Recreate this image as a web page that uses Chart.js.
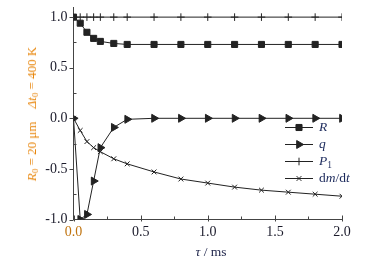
<!DOCTYPE html>
<html>
<head>
<meta charset="utf-8">
<script src="https://cdn.jsdelivr.net/npm/chart.js@4/dist/chart.umd.min.js"></script>
<style>
  html, body { margin: 0; padding: 0; background: #fff; }
  #wrap { position: relative; width: 384px; height: 265px; font-family: "Liberation Serif", "Times New Roman", serif; }
  #c { position: absolute; left: 0; top: 0; }
  .ytitle { position: absolute; left: 32px; top: 114px; transform: translate(-50%, -50%) rotate(-90deg);
            white-space: nowrap; color: #e8860c; font-size: 13px; }
  .xtitle { position: absolute; left: 211px; top: 252px; transform: translate(-50%, -50%);
            white-space: nowrap; color: #1c2248; font-size: 13.5px; }
  .leg { position: absolute; left: 319px; color: #1c2a5c; font-size: 13.5px; line-height: 1; transform: translateY(-50%); white-space: nowrap; }
  sub { font-size: 70%; vertical-align: -0.25em; line-height: 0; }
</style>
</head>
<body>
<div id="wrap">
  <canvas id="c" width="384" height="265"></canvas>
  <div class="ytitle"><i>R</i><sub>0</sub> = 20 μm&nbsp;&nbsp;&nbsp;&nbsp;<i>Δt</i><sub>0</sub> = 400 K</div>
  <div class="xtitle"><i>τ</i> / ms</div>
  <div class="leg" style="top:127px"><i>R</i></div>
  <div class="leg" style="top:144px"><i>q</i></div>
  <div class="leg" style="top:161px"><i>P</i><sub>1</sub></div>
  <div class="leg" style="top:178px">d<i>m</i>/d<i>t</i></div>
</div>
<script>
// Time axis, ms
const tau = [0, 0.05, 0.1, 0.15, 0.2, 0.3, 0.4, 0.6, 0.8, 1.0, 1.2, 1.4, 1.6, 1.8, 2.0];

// Normalised series
const R    = [1.0, 0.94, 0.85, 0.79, 0.76, 0.74, 0.73, 0.73, 0.73, 0.73, 0.73, 0.73, 0.73, 0.73, 0.73];
const q    = [0, -1.0, -0.95, -0.62, -0.29, -0.09, -0.01, 0, 0, 0, 0, 0, 0, 0, 0];
const P1   = [1, 1, 1, 1, 1, 1, 1, 1, 1, 1, 1, 1, 1, 1, 1];
const dmdt = [0, -0.12, -0.23, -0.29, -0.33, -0.40, -0.45, -0.53, -0.60, -0.64, -0.68, -0.71, -0.73, -0.75, -0.77];

// Tick values (labelled majors, unlabelled minors)
const xTicks = [0, 0.5, 1.0, 1.5, 2.0];
const xMinor = [0.25, 0.75, 1.25, 1.75];
const yTicks = [-1.0, -0.5, 0, 0.5, 1.0];
const yMinor = [-0.75, -0.25, 0.25, 0.75];

const INK = "#222";
const AXIS = "#444";
const SERIF = "'Liberation Serif', 'Times New Roman', serif";

const series = [
  { label: "R", data: R, pointStyle: "rect", radius: 4.3, rotation: 0 },
  { label: "q", data: q, pointStyle: "triangle", radius: 4.6, rotation: 90 },
  { label: "P1", data: P1, pointStyle: "cross", radius: 3.8, rotation: 0 },
  { label: "dm/dt", data: dmdt, pointStyle: "crossRot", radius: 3.4, rotation: 0 },
];

const legendRows = [127, 144, 161, 178];

// inward/outward tick marks + legend samples
const frame = {
  id: "frame",
  afterDraw(chart) {
    const { ctx } = chart;
    const x = chart.scales.x, y = chart.scales.y;
    const x0 = x.getPixelForValue(0);
    const y0 = y.getPixelForValue(-1);
    ctx.save();
    ctx.strokeStyle = AXIS;
    ctx.lineWidth = 1;
    ctx.beginPath();
    yTicks.forEach((v) => { const p = Math.round(y.getPixelForValue(v)) + 0.5; ctx.moveTo(x0 - 4, p); ctx.lineTo(x0, p); });
    yMinor.forEach((v) => { const p = Math.round(y.getPixelForValue(v)) + 0.5; ctx.moveTo(x0, p); ctx.lineTo(x0 + 3, p); });
    xTicks.forEach((v) => { const p = Math.round(x.getPixelForValue(v)) + 0.5; ctx.moveTo(p, y0 + 2); ctx.lineTo(p, y0 - 4); });
    xMinor.forEach((v) => { const p = Math.round(x.getPixelForValue(v)) + 0.5; ctx.moveTo(p, y0); ctx.lineTo(p, y0 - 3); });
    ctx.stroke();

    series.forEach((s, i) => {
      const yy = legendRows[i] + 0.5;
      ctx.strokeStyle = INK;
      ctx.fillStyle = INK;
      ctx.lineWidth = 1;
      ctx.beginPath();
      ctx.moveTo(285, yy);
      ctx.lineTo(313, yy);
      ctx.stroke();
      Chart.helpers.drawPoint(ctx, { pointStyle: s.pointStyle, rotation: s.rotation, radius: s.radius, borderWidth: 1 }, 299, yy);
    });
    ctx.restore();
  },
};

new Chart(document.getElementById("c"), {
  type: "line",
  data: {
    datasets: series.map((s) => ({
      label: s.label,
      data: tau.map((t, i) => ({ x: t, y: s.data[i] })),
      borderColor: INK,
      backgroundColor: INK,
      borderWidth: 1,
      pointStyle: s.pointStyle,
      pointRotation: s.rotation,
      pointRadius: s.radius,
      pointBorderWidth: 1,
      pointBackgroundColor: INK,
      pointBorderColor: INK,
      tension: 0,
    })),
  },
  plugins: [frame],
  options: {
    responsive: false,
    animation: false,
    layout: { padding: { top: 7, right: 42, bottom: 0, left: 0 } },
    plugins: { legend: { display: false }, tooltip: { enabled: false } },
    scales: {
      x: {
        type: "linear",
        min: 0,
        max: 2,
        afterBuildTicks: (s) => { s.ticks = xTicks.map((v) => ({ value: v })); },
        afterFit: (s) => { s.height = 45.5; s.paddingLeft = 0; s.paddingRight = 0; },
        grid: { display: false, drawTicks: false },
        border: { display: true, color: AXIS, width: 1 },
        ticks: {
          padding: 4,
          maxRotation: 0,
          font: { family: SERIF, size: 14 },
          color: (c) => (c.index === 0 ? "#c07410" : "#1b1b2b"),
          callback: (v) => Number(v).toFixed(1),
        },
      },
      y: {
        type: "linear",
        min: -1,
        max: 1.1,
        afterBuildTicks: (s) => { s.ticks = yTicks.map((v) => ({ value: v })); },
        afterFit: (s) => { s.width = 73.5; s.paddingTop = 0; s.paddingBottom = 0; },
        grid: { display: false, drawTicks: false },
        border: { display: true, color: AXIS, width: 1 },
        ticks: {
          padding: 6,
          font: { family: SERIF, size: 14 },
          color: "#1b1b2b",
          callback: (v) => Number(v).toFixed(1),
        },
      },
    },
  },
});
</script>
</body>
</html>
